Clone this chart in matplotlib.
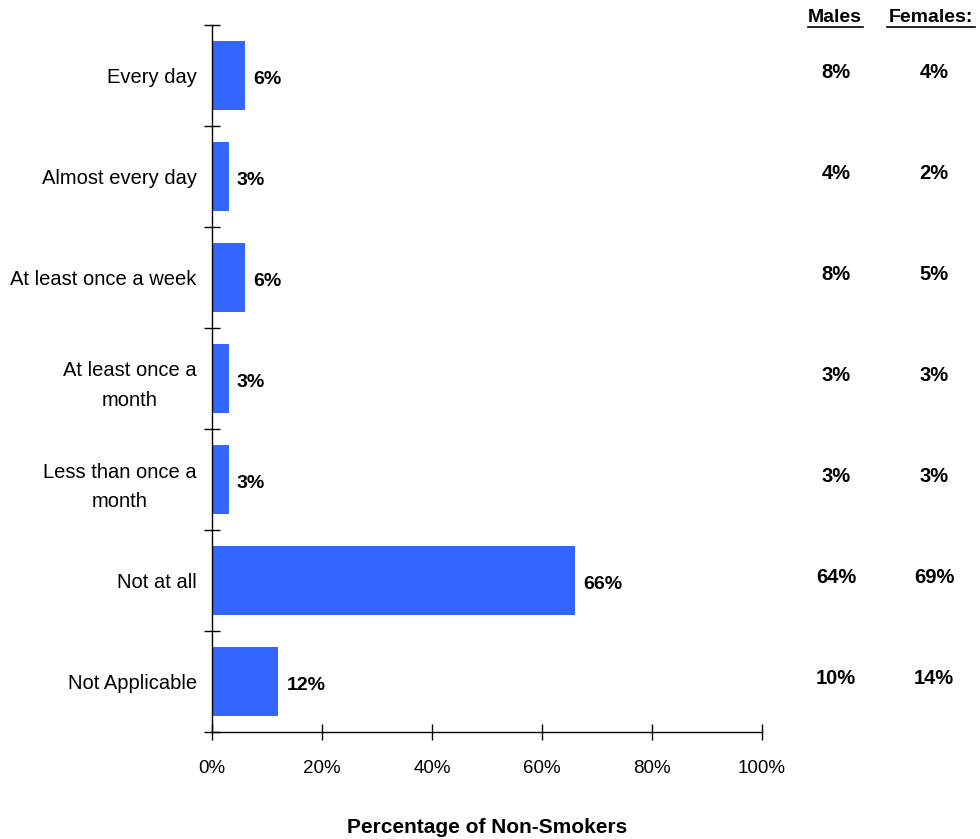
import matplotlib
matplotlib.use("Agg")
import matplotlib.pyplot as plt
from matplotlib.ticker import PercentFormatter

categories = ["Every day", "Almost every day", "At least once a week",
              "At least once a\nmonth", "Less than once a\nmonth",
              "Not at all", "Not Applicable"]
overall = [6, 3, 6, 3, 3, 66, 12]
males = [8, 4, 8, 3, 3, 64, 10]
females = [4, 2, 5, 3, 3, 69, 14]
x_ticks = [0, 20, 40, 60, 80, 100]

plt.rcParams['font.family'] = ['Liberation Sans', 'DejaVu Sans']

fig = plt.figure(figsize=(9.8, 8.39), dpi=100)
ax = fig.add_axes([212/980, 1-732/839, 550/980, 707/839])

n = len(categories)
ypos = list(range(n))
ax.barh(ypos, overall, height=0.68, color="#3366FF", zorder=2)
ax.set_ylim(n - 0.5, -0.5)
ax.set_xlim(0, 100)

# category boundary ticks on the y axis
ax.set_yticks([i - 0.5 for i in range(n + 1)])
ax.set_yticklabels([])
ax.set_yticks(ypos, minor=True)
ax.set_yticklabels(categories, minor=True, fontsize=14.5, ha="right",
                   multialignment="center", linespacing=1.7)
ax.tick_params(axis="y", which="minor", length=0, pad=11)
ax.tick_params(axis="y", which="major", direction="inout", length=12, width=1)

ax.set_xticks(x_ticks)
ax.xaxis.set_major_formatter(PercentFormatter(decimals=0))
ax.tick_params(axis="x", direction="inout", length=12, width=1, labelsize=13.5, pad=14)

for s in ["top", "right"]:
    ax.spines[s].set_visible(False)
ax.spines["left"].set_linewidth(1)
ax.spines["bottom"].set_linewidth(1)

for i, v in enumerate(overall):
    ax.text(v + 1.5, i + 0.04, f"{v}%", va="center", ha="left",
            fontsize=14, fontweight="bold")

ax.set_xlabel("Percentage of Non-Smokers", fontsize=15, fontweight="bold",
              labelpad=30)

# side columns for males and females
tr = ax.get_yaxis_transform()
fig.text(835/980, 1-17/839, "Males", ha="center", va="center",
         fontsize=14, fontweight="bold")
fig.text(931/980, 1-17/839, "Females:", ha="center", va="center",
         fontsize=14, fontweight="bold")
fig.lines.append(plt.Line2D([808/980, 863/980], [1-27/839, 1-27/839],
                            color="black", lw=1.2, transform=fig.transFigure))
fig.lines.append(plt.Line2D([887/980, 975/980], [1-27/839, 1-27/839],
                            color="black", lw=1.2, transform=fig.transFigure))
for i in range(n):
    ax.text((836 - 212)/550, i - 0.03, f"{males[i]}%", transform=tr, ha="center",
            va="center", fontsize=14.5, fontweight="bold", clip_on=False)
    ax.text((934 - 212)/550, i - 0.03, f"{females[i]}%", transform=tr,
            ha="center", va="center", fontsize=14.5, fontweight="bold",
            clip_on=False)

fig.savefig("out.png", dpi=100)
